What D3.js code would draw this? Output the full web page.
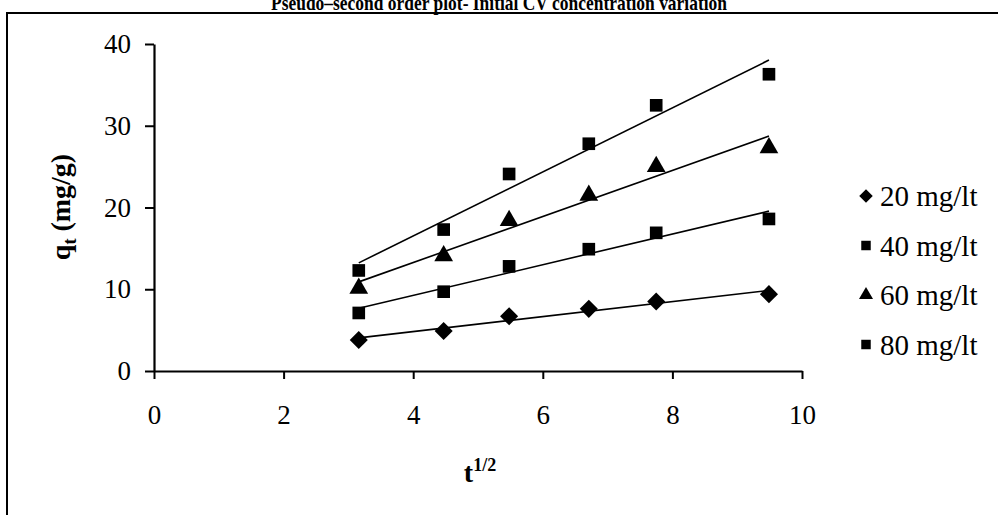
<!DOCTYPE html>
<html>
<head>
<meta charset="utf-8">
<script src="https://cdn.jsdelivr.net/npm/d3@7"></script>
<style>
    body { margin: 0; background: #fff; }
    svg { display: block; font-family: "Liberation Serif", "Times New Roman", serif; }
</style>
</head>
<body>
<div id="chart"></div>
<script>

// t^1/2 values (sqrt of contact time)
const tHalf = [3.16, 4.47, 5.48, 6.71, 7.75, 9.49];

const seriesNames = ["20 mg/lt", "40 mg/lt", "60 mg/lt", "80 mg/lt"];
const seriesMarkers = ["diamond", "square", "triangle", "square"];

// q_t (mg/g)
const q20 = [3.8, 4.9, 6.7, 7.6, 8.5, 9.4];
const q40 = [7.1, 9.7, 12.8, 14.9, 16.9, 18.6];
const q60 = [10.1, 14.1, 18.4, 21.5, 25.0, 27.3];
const q80 = [12.3, 17.3, 24.1, 27.8, 32.5, 36.3];

const xTicks = [0, 2, 4, 6, 8, 10];
const yTicks = [0, 10, 20, 30, 40];

const seriesValues = [q20, q40, q60, q80];

let width = 998, height = 515;
let margin = {top: 44, left: 154, right: 196, bottom: 144};

let svg = d3.select("#chart").append("svg")
    .attr("width", width)
    .attr("height", height);

// outer chart border (runs off the bottom/right of the window)
svg.append("rect")
    .attr("x", 7)
    .attr("y", 13)
    .attr("width", 1100)
    .attr("height", 600)
    .attr("fill", "none")
    .attr("stroke", "black")
    .attr("stroke-width", 2);

// title, partly cut off at the top
svg.append("text")
    .attr("x", 499)
    .attr("y", 10)
    .attr("text-anchor", "middle")
    .attr("font-weight", "bold")
    .attr("font-size", 22)
    .attr("textLength", 456)
    .attr("lengthAdjust", "spacingAndGlyphs")
    .text("Pseudo\u2013second order plot- Initial CV concentration variation");

let x = d3.scaleLinear()
    .domain([0, 10])
    .range([margin.left, width - margin.right]);
let y = d3.scaleLinear()
    .domain([0, 40])
    .range([height - margin.bottom, margin.top]);

// axes
let xAxis = svg.append("g")
    .attr("transform", `translate(0, ${y(0)})`)
    .call(d3.axisBottom(x).tickValues(xTicks).tickSize(8).tickPadding(26).tickSizeOuter(0));
let yAxis = svg.append("g")
    .attr("transform", `translate(${x(0)}, 0)`)
    .call(d3.axisLeft(y).tickValues(yTicks).tickSize(9).tickPadding(14).tickSizeOuter(0));

[xAxis, yAxis].forEach(g => {
    g.select(".domain").attr("stroke", "black").attr("stroke-width", 2.2);
    g.selectAll(".tick line").attr("stroke", "black").attr("stroke-width", 2);
    g.selectAll(".tick text")
        .attr("font-family", "Liberation Serif, Times New Roman, serif")
        .attr("font-size", 27)
        .attr("fill", "black");
});
xAxis.selectAll(".tick text").attr("dy", "0.71em");

// axis titles
let xt = svg.append("text")
    .attr("x", 480)
    .attr("y", 482)
    .attr("text-anchor", "middle")
    .attr("font-weight", "bold")
    .attr("font-size", 28);
xt.append("tspan").text("t");
xt.append("tspan").attr("font-size", 18).attr("dy", -11).text("1/2");

let yt = svg.append("text")
    .attr("transform", "translate(70, 207) rotate(-90)")
    .attr("text-anchor", "middle")
    .attr("font-weight", "bold")
    .attr("font-size", 28);
yt.append("tspan").text("q");
yt.append("tspan").attr("font-size", 18).attr("dy", 6).text("t");
yt.append("tspan").attr("dy", -6).text(" (mg/g)");

// marker shapes
function markerPath(kind, s) {
    if (kind === "diamond") return d3.symbol().type(d3.symbolDiamond2).size(s * 1.3)();
    if (kind === "triangle") return d3.symbol().type(d3.symbolTriangle).size(s * 0.95)();
    return d3.symbol().type(d3.symbolSquare).size(s)();
}

// least-squares trendline for each series
function fit(xs, ys) {
    let mx = d3.mean(xs), my = d3.mean(ys);
    let sxy = d3.sum(xs, (v, i) => (v - mx) * (ys[i] - my));
    let sxx = d3.sum(xs, v => (v - mx) * (v - mx));
    let b = sxy / sxx;
    return [my - b * mx, b];
}

seriesValues.forEach((vals, k) => {
    let [a, b] = fit(tHalf, vals);
    let x0 = d3.min(tHalf), x1 = d3.max(tHalf);
    svg.append("line")
        .attr("x1", x(x0)).attr("y1", y(a + b * x0))
        .attr("x2", x(x1)).attr("y2", y(a + b * x1))
        .attr("stroke", "black")
        .attr("stroke-width", 1.6);
});

seriesValues.forEach((vals, k) => {
    svg.selectAll(".pt" + k)
        .data(vals)
        .enter().append("path")
        .attr("class", "pt" + k)
        .attr("transform", (d, i) => `translate(${x(tHalf[i])}, ${y(d)})`)
        .attr("d", markerPath(seriesMarkers[k], 160))
        .attr("fill", "black");
});

// legend
let legend = svg.append("g");
seriesNames.forEach((name, k) => {
    let ly = 196 + k * 49.5;
    legend.append("path")
        .attr("transform", `translate(866, ${ly})`)
        .attr("d", markerPath(seriesMarkers[k], 90))
        .attr("fill", "black");
    legend.append("text")
        .attr("x", 880)
        .attr("y", ly)
        .attr("dy", "0.35em")
        .attr("font-size", 29)
        .text(name);
});

</script>
</body>
</html>
